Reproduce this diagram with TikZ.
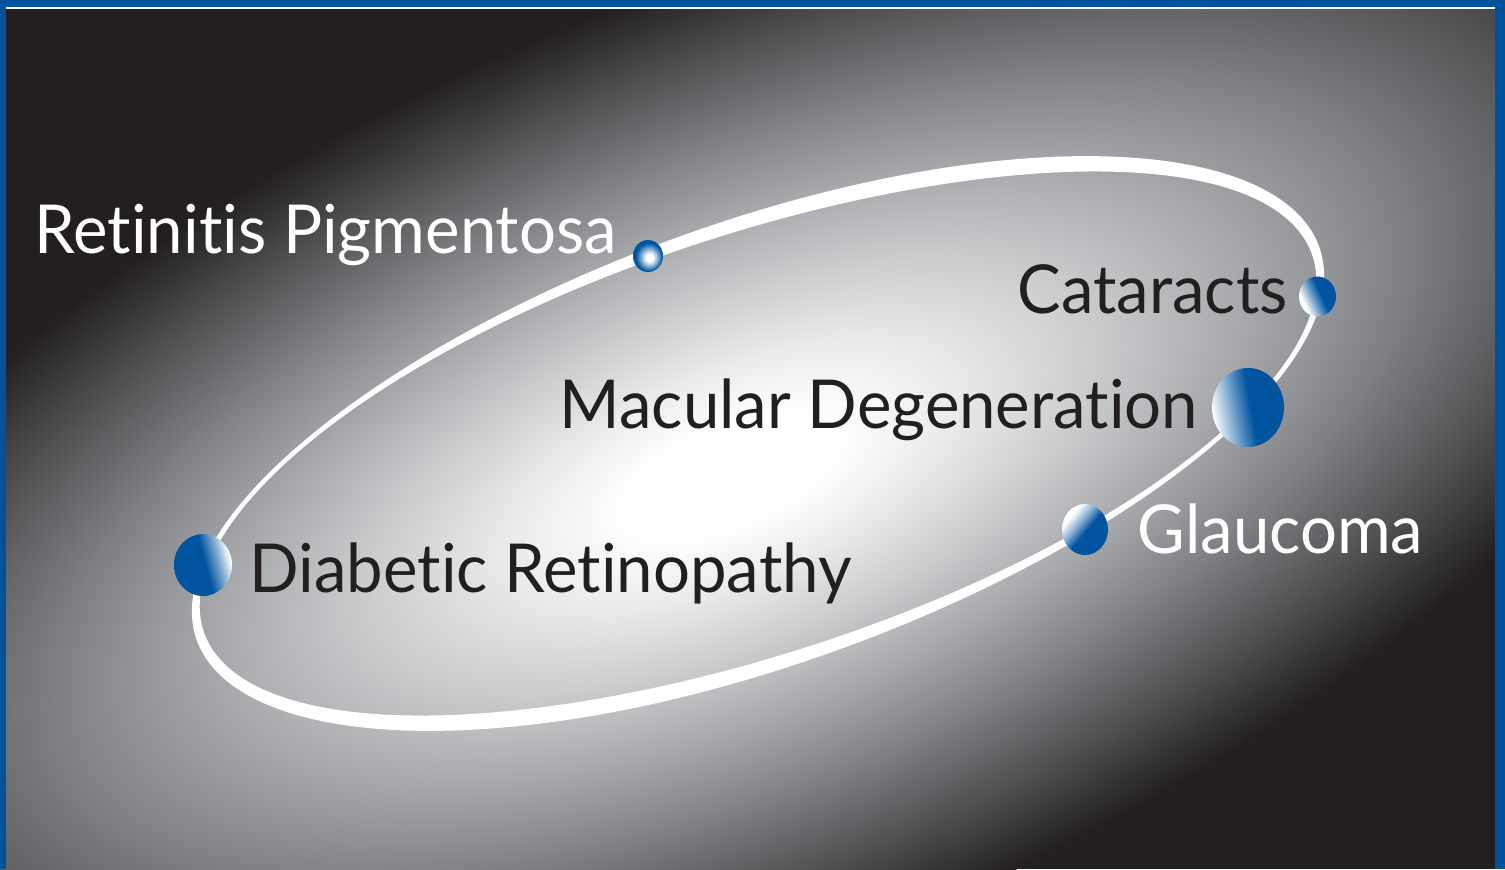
\documentclass[tikz,border=0pt]{standalone}
\usepackage{fontspec}
\setmainfont{Lato}[Ligatures=NoCommon]
\usetikzlibrary{shapes.geometric}
\definecolor{bgc}{RGB}{35,31,32}
\definecolor{sblue}{RGB}{0,84,160}
\definecolor{bblue}{RGB}{0,82,155}
\definecolor{txt}{RGB}{35,31,32}
\definecolor{gA}{RGB}{234,234,235}
\definecolor{gB}{RGB}{202,203,205}
\definecolor{gC}{RGB}{166,167,170}
\definecolor{gD}{RGB}{128,129,132}
\definecolor{gE}{RGB}{90,90,93}
\definecolor{gF}{RGB}{56,54,56}
\definecolor{lb}{RGB}{128,170,208}
\pgfdeclareradialshading{glow}{\pgfpoint{0bp}{0bp}}{color(0bp)=(white); color(2.5bp)=(white); color(5.5bp)=(gA); color(9bp)=(gB); color(12.75bp)=(gC); color(16.5bp)=(gD); color(20bp)=(gE); color(23bp)=(gF); color(25bp)=(bgc); color(50bp)=(bgc)}
\pgfdeclareradialshading{rpball}{\pgfpoint{3bp}{-3bp}}{color(0bp)=(white); color(6bp)=(white); color(14bp)=(lb); color(22bp)=(sblue); color(50bp)=(sblue)}
\pgfdeclarehorizontalshading{catsh}{100bp}{color(0bp)=(white); color(30bp)=(white); color(42bp)=(lb); color(55bp)=(sblue); color(100bp)=(sblue)}
\pgfdeclarehorizontalshading{mdsh}{100bp}{color(0bp)=(white); color(25bp)=(white); color(38bp)=(lb); color(52bp)=(sblue); color(100bp)=(sblue)}
\pgfdeclarehorizontalshading{glsh}{100bp}{color(0bp)=(white); color(30bp)=(white); color(42bp)=(lb); color(52bp)=(sblue); color(100bp)=(sblue)}
\pgfdeclarehorizontalshading{drsh}{100bp}{color(0bp)=(sblue); color(52bp)=(sblue); color(64bp)=(lb); color(74bp)=(white); color(100bp)=(white)}
\newcommand{\lbltext}[1]{\scalebox{0.967}[1]{#1}}
\begin{document}
\begin{tikzpicture}[x=0.01cm, y=-0.01cm,
  lbl/.style={anchor=base west, inner sep=0pt, font=\fontsize{19.2}{22}\selectfont},
  sph/.style={ellipse, inner sep=0pt, draw=none, shade}]
\useasboundingbox (0,0) rectangle (1505,869);
\fill[bgc] (0,0) rectangle (1505,869);
\begin{scope}
\clip (0,0) rectangle (1505,869);
\begin{scope}[transform canvas={shift={(730,475)}, rotate=23, yscale=0.44}]
\shade[shading=glow] (0,0) circle (1085);
\end{scope}
\end{scope}
% orbit (variable-width ring)
\fill[white, even odd rule]
  plot[domain=0:360, samples=241, variable=\t]
   ({758 + (595.5+3*sin(2*(\t-8)))*cos(\t)*0.9455 - (220.5+3*sin(2*(\t-8)))*sin(\t)*0.3256},
    {443.5 - ((595.5+3*sin(2*(\t-8)))*cos(\t)*0.3256 + (220.5+3*sin(2*(\t-8)))*sin(\t)*0.9455)}) -- cycle
  plot[domain=0:360, samples=241, variable=\t]
   ({758 + (584.5-3*sin(2*(\t-8)))*cos(\t)*0.9455 - (209.5-3*sin(2*(\t-8)))*sin(\t)*0.3256},
    {443.5 - ((584.5-3*sin(2*(\t-8)))*cos(\t)*0.3256 + (209.5-3*sin(2*(\t-8)))*sin(\t)*0.9455)}) -- cycle;
% spheres
\node[sph, minimum width=0.30cm, minimum height=0.32cm, shading=rpball] (rpS) at (648,256) {};
\node[sph, minimum width=0.37cm, minimum height=0.40cm, shading=catsh, shading angle=25] (catS) at (1317.5,296.5) {};
\node[sph, minimum width=0.72cm, minimum height=0.79cm, shading=mdsh, shading angle=10] (mdS) at (1248,407.5) {};
\node[sph, minimum width=0.46cm, minimum height=0.51cm, shading=glsh, shading angle=-40] (glS) at (1085,529.5) {};
\node[sph, minimum width=0.58cm, minimum height=0.62cm, shading=drsh, shading angle=15] (drS) at (203,565) {};
% labels
\node[lbl, text=white] (rp) at (34,253) {\lbltext{Retinitis Pigmentosa}};
\node[lbl, text=txt] (cat) at (1017,313) {\lbltext{Cataracts}};
\node[lbl, text=txt] (md) at (559,428) {\lbltext{Macular Degeneration}};
\node[lbl, text=white] (gl) at (1137,553) {\lbltext{Glaucoma}};
\node[lbl, text=txt] (dr) at (249,592) {\lbltext{Diabetic Retinopathy}};
% border
\fill[bblue] (0,0) rectangle (1505,7.3);
\fill[white] (6,7.3) rectangle (1495,8.8);
\fill[bblue] (0,0) rectangle (6,869);
\fill[bblue] (1495,0) rectangle (1505,869);
\end{tikzpicture}
\end{document}
